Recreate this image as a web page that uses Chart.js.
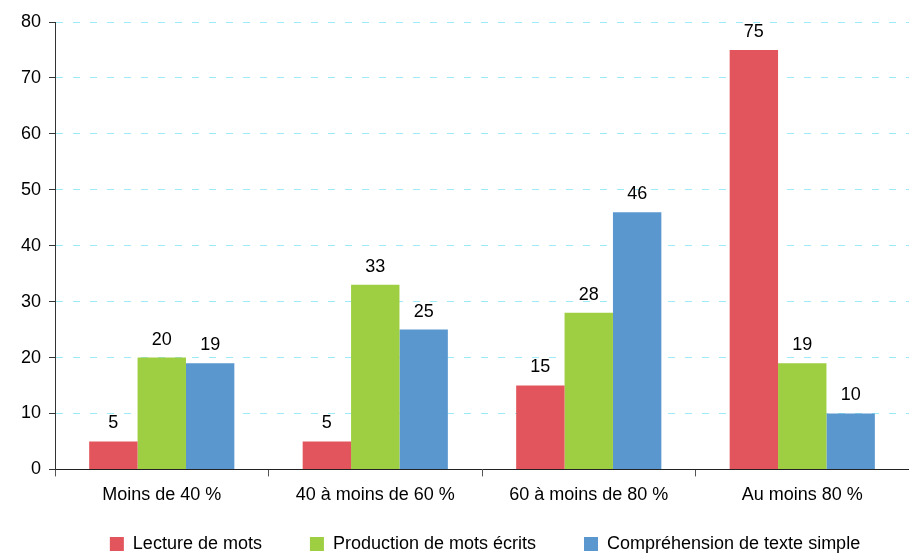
<!DOCTYPE html>
<html>
<head>
<meta charset="utf-8">
<script src="https://cdn.jsdelivr.net/npm/chart.js@4"></script>
<style>
  html, body { margin: 0; padding: 0; background: #fff; }
  #wrap { width: 909px; height: 554px; }
</style>
</head>
<body>
<div id="wrap"><canvas id="chart"></canvas></div>
<script>
const categories = ['Moins de 40 %', '40 à moins de 60 %', '60 à moins de 80 %', 'Au moins 80 %'];
const lecture = [5, 5, 15, 75];
const production = [20, 33, 28, 19];
const comprehension = [19, 25, 46, 10];
const yTicks = [0, 10, 20, 30, 40, 50, 60, 70, 80];

const FONT = '"Liberation Sans", Arial, sans-serif';

// draws the value above each bar
const barValues = {
  id: 'barValues',
  afterDatasetsDraw(chart) {
    const ctx = chart.ctx;
    ctx.save();
    ctx.font = '18px ' + FONT;
    ctx.fillStyle = '#000';
    ctx.textAlign = 'center';
    ctx.textBaseline = 'bottom';
    chart.data.datasets.forEach((ds, i) => {
      chart.getDatasetMeta(i).data.forEach((bar, j) => {
        ctx.fillText(ds.data[j], bar.x, bar.y - 9);
      });
    });
    ctx.restore();
  }
};

// legend padding is big for the horizontal gaps, so pull the legend back up
const legendShift = {
  id: 'legendShift',
  afterLayout(chart) {
    const lg = chart.legend;
    lg.top -= 27; lg.bottom -= 27;
    lg.left += 24; lg.right += 24;
  }
};

new Chart(document.getElementById('chart'), {
  type: 'bar',
  data: {
    labels: categories,
    datasets: [
      { label: 'Lecture de mots', data: lecture, backgroundColor: '#E2555C' },
      { label: 'Production de mots écrits', data: production, backgroundColor: '#9ECE42' },
      { label: 'Compréhension de texte simple', data: comprehension, backgroundColor: '#5A97CF' }
    ]
  },
  options: {
    responsive: true,
    maintainAspectRatio: false,
    animation: false,
    layout: { padding: { top: 22, right: 0, left: 13, bottom: -36 } },
    datasets: { bar: { categoryPercentage: 0.68, barPercentage: 1.0 } },
    plugins: {
      tooltip: { enabled: false },
      legend: {
        position: 'bottom',
        labels: {
          boxWidth: 14,
          boxHeight: 14,
          padding: 48,
          color: '#000',
          font: { size: 18, family: FONT }
        }
      }
    },
    scales: {
      x: {
        grid: { offset: true, drawOnChartArea: false, drawTicks: true, tickLength: 7, color: '#555' },
        border: { color: '#222', width: 1 },
        ticks: { color: '#000', padding: 8, font: { size: 18, family: FONT } }
      },
      y: {
        min: 0,
        max: 80,
        afterBuildTicks(axis) { axis.ticks = yTicks.map(v => ({ value: v })); },
        grid: {
          color: (c) => c.tick && c.tick.value === 0 ? 'rgba(0,0,0,0)' : '#9DEBF8',
          tickColor: '#333',
          tickLength: 6,
          drawTicks: true
        },
        border: { color: '#333', width: 1, dash: [7, 10] },
        ticks: { color: '#000', padding: 8, font: { size: 18, family: FONT } }
      }
    }
  },
  plugins: [barValues, legendShift]
});
</script>
</body>
</html>
